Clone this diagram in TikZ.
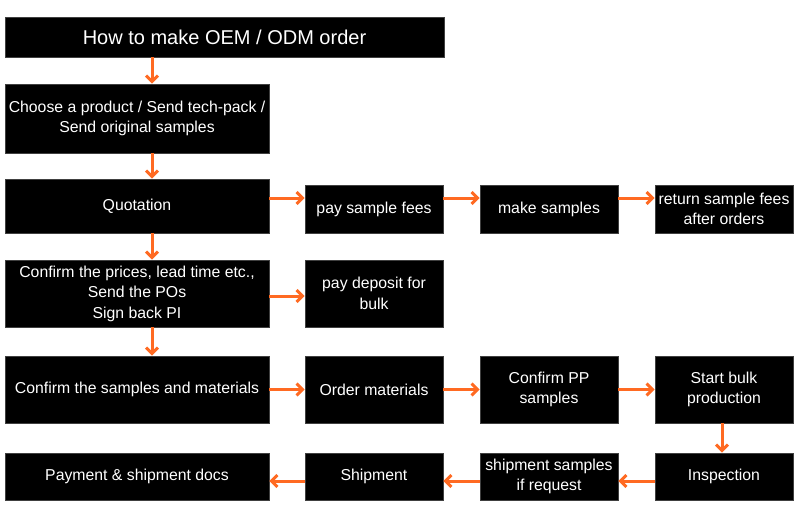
\documentclass[tikz,border=0pt]{standalone}
\usepackage{fontspec}
\setmainfont{Liberation Sans}
\usetikzlibrary{arrows.meta}
\definecolor{arrorange}{RGB}{255,106,34}

\tikzset{
  box/.style={draw=black!75, line width=0.6pt, fill=black, text=white, inner sep=1pt, align=center,
    font=\fontsize{15.8}{20.5}\selectfont},
  arr/.style={draw=arrorange, line width=3pt, -{Straight Barb[length=6pt,width=12pt]}}
}

\begin{document}
\begin{tikzpicture}[x=1pt,y=-1pt]

\useasboundingbox (0,0) rectangle (800,515);

\node (title) [box, minimum width=439pt, minimum height=40pt, font=\fontsize{20}{24}\selectfont] at (224.5,37) {How to make OEM / ODM order};
\node (choose) [box, minimum width=264pt, minimum height=69pt] at (137,118.5) {Choose a product / Send tech-pack /\\Send original samples};
\node (quot) [box, minimum width=264pt, minimum height=54pt] at (137,206) {Quotation};
\node (fees) [box, minimum width=138pt, minimum height=48pt] at (374,209) {pay sample fees};
\node (make) [box, minimum width=138pt, minimum height=48pt] at (549,209) {make samples};
\node (ret) [box, minimum width=138pt, minimum height=48pt] at (724,209) {return sample fees\\after orders};
\node (prices) [box, minimum width=264pt, minimum height=67pt] at (137,293.5) {Confirm the prices, lead time etc.,\\Send the POs\\Sign back PI};
\node (dep) [box, minimum width=138pt, minimum height=67pt] at (374,293.5) {pay deposit for\\bulk};
\node (csam) [box, minimum width=264pt, minimum height=67pt] at (137,389.5) {Confirm the samples and materials};
\node (omat) [box, minimum width=138pt, minimum height=67pt] at (374,389.5) {Order materials};
\node (pp) [box, minimum width=138pt, minimum height=67pt] at (549,389.5) {Confirm PP\\samples};
\node (bulk) [box, minimum width=138pt, minimum height=67pt] at (724,389.5) {Start bulk\\production};
\node (pay) [box, minimum width=264pt, minimum height=47pt] at (137,476.5) {Payment \& shipment docs};
\node (ship) [box, minimum width=138pt, minimum height=47pt] at (374,476.5) {Shipment};
\node (shsam) [box, minimum width=138pt, minimum height=47pt] at (549,476.5) {shipment samples\\if request};
\node (insp) [box, minimum width=138pt, minimum height=47pt] at (724,476.5) {Inspection};

\coordinate (vx) at (152,0);
\coordinate (r3) at (0,198);
\coordinate (r4) at (0,296);
\coordinate (r6) at (0,481);

\draw [arr] (title.south -| vx) -- (choose.north -| vx);
\draw [arr] (choose.south -| vx) -- (quot.north -| vx);
\draw [arr] (quot.south -| vx) -- (prices.north -| vx);
\draw [arr] (prices.south -| vx) -- (csam.north -| vx);

\draw [arr] (quot.east |- r3) -- (fees.west |- r3);
\draw [arr] (fees.east |- r3) -- (make.west |- r3);
\draw [arr] (make.east |- r3) -- (ret.west |- r3);
\draw [arr] (prices.east |- r4) -- (dep.west |- r4);

\draw [arr] (csam.east) -- (omat.west);
\draw [arr] (omat.east) -- (pp.west);
\draw [arr] (pp.east) -- (bulk.west);
\draw [arr] ([xshift=-2pt]bulk.south) -- ([xshift=-2pt]insp.north);

\draw [arr] (insp.west |- r6) -- (shsam.east |- r6);
\draw [arr] (shsam.west |- r6) -- (ship.east |- r6);
\draw [arr] (ship.west |- r6) -- (pay.east |- r6);

\end{tikzpicture}
\end{document}
